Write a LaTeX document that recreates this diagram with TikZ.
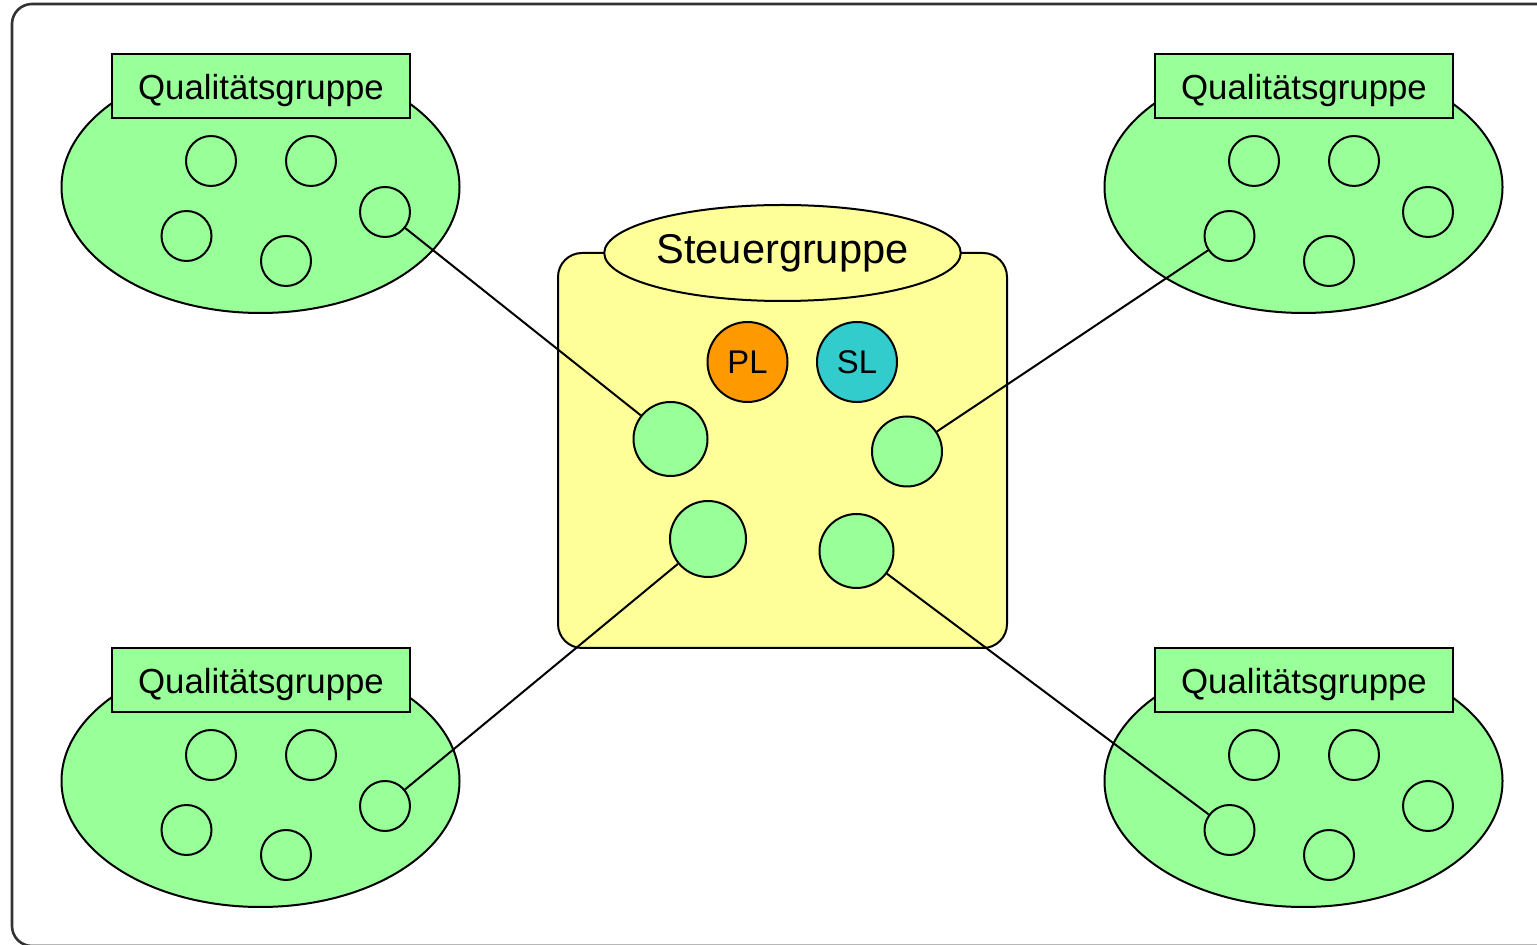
\documentclass[tikz,border=0pt]{standalone}
\usepackage{fontspec}
\setmainfont{Liberation Sans}
\usetikzlibrary{shapes.geometric,calc}
\definecolor{qgreen}{HTML}{99FF99}
\definecolor{syellow}{HTML}{FFFF99}
\definecolor{plorange}{HTML}{FF9900}
\definecolor{slcyan}{HTML}{33CCCC}
\definecolor{framegray}{HTML}{333333}
\tikzset{
  grpell/.style={ellipse, draw, fill=qgreen, line width=1pt, inner sep=0pt, minimum width=199pt, minimum height=126pt},
  grplabel/.style={rectangle, draw, fill=qgreen, line width=1pt, inner sep=0pt, minimum width=149pt, minimum height=32pt, text depth=0pt, font=\fontsize{17.4}{20}\selectfont},
  member/.style={circle, draw, line width=1pt, inner sep=0pt, minimum size=25pt},
  bigmember/.style={circle, draw, fill=qgreen, line width=1pt, inner sep=0pt, minimum size=37pt},
  leader/.style={circle, draw, line width=1pt, inner sep=0pt, minimum size=40pt, font=\fontsize{16.4}{18}\selectfont},
  link/.style={draw, line width=1pt},
}
\newcommand{\qgroup}[3]{%
  \node[grpell] (#1e) at (#2,#3) {};
  \node[grplabel] (#1l) at ($(#2,#3)+(0.5,-100.5)$) {Qualitätsgruppe};
  \node[member] (#11) at ($(#2,#3)+(-49.5,-26)$) {};
  \node[member] (#12) at ($(#2,#3)+(50.5,-26)$) {};
  \node[member] (#13) at ($(#2,#3)+(-74,49)$) {};
  \node[member] (#14) at ($(#2,#3)+(25.5,74)$) {};
  \node[member] (#15) at ($(#2,#3)+(124.5,25)$) {};
}
\begin{document}
\begin{tikzpicture}[x=0.5pt,y=-0.5pt]
\clip (0,0) rectangle (1537,945);
\draw[framegray, line width=1.3pt, rounded corners=10pt] (12,4) rectangle (1580,946);
\qgroup{qa}{260.5}{187}
\qgroup{qb}{1303.5}{187}
\qgroup{qc}{260.5}{781}
\qgroup{qd}{1303.5}{781}
\node[rectangle, draw, fill=syellow, line width=1pt, rounded corners=12pt, minimum width=224.5pt, minimum height=197.5pt, inner sep=0pt] (body) at (782.5,450.5) {};
\node[ellipse, draw, fill=syellow, line width=1pt, inner sep=0pt, minimum width=172.5pt, minimum height=48pt, font=\fontsize{20.8}{24}\selectfont] (head) at (782.5,253) {Steuergruppe};
\node[leader, fill=plorange] (pl) at (747.5,362) {PL};
\node[leader, fill=slcyan] (sl) at (857,362) {SL};
\node[bigmember] (c1) at (670.5,439) {};
\node[bigmember, minimum size=35pt] (c2) at (907,451.5) {};
\node[bigmember, minimum size=38pt] (c3) at (708,539) {};
\node[bigmember] (c4) at (856.5,551) {};
\draw[link] (qa5) -- (c1);
\draw[link] (qb3) -- (c2);
\draw[link] (qc5) -- (c3);
\draw[link] (qd3) -- (c4);
\end{tikzpicture}
\end{document}
